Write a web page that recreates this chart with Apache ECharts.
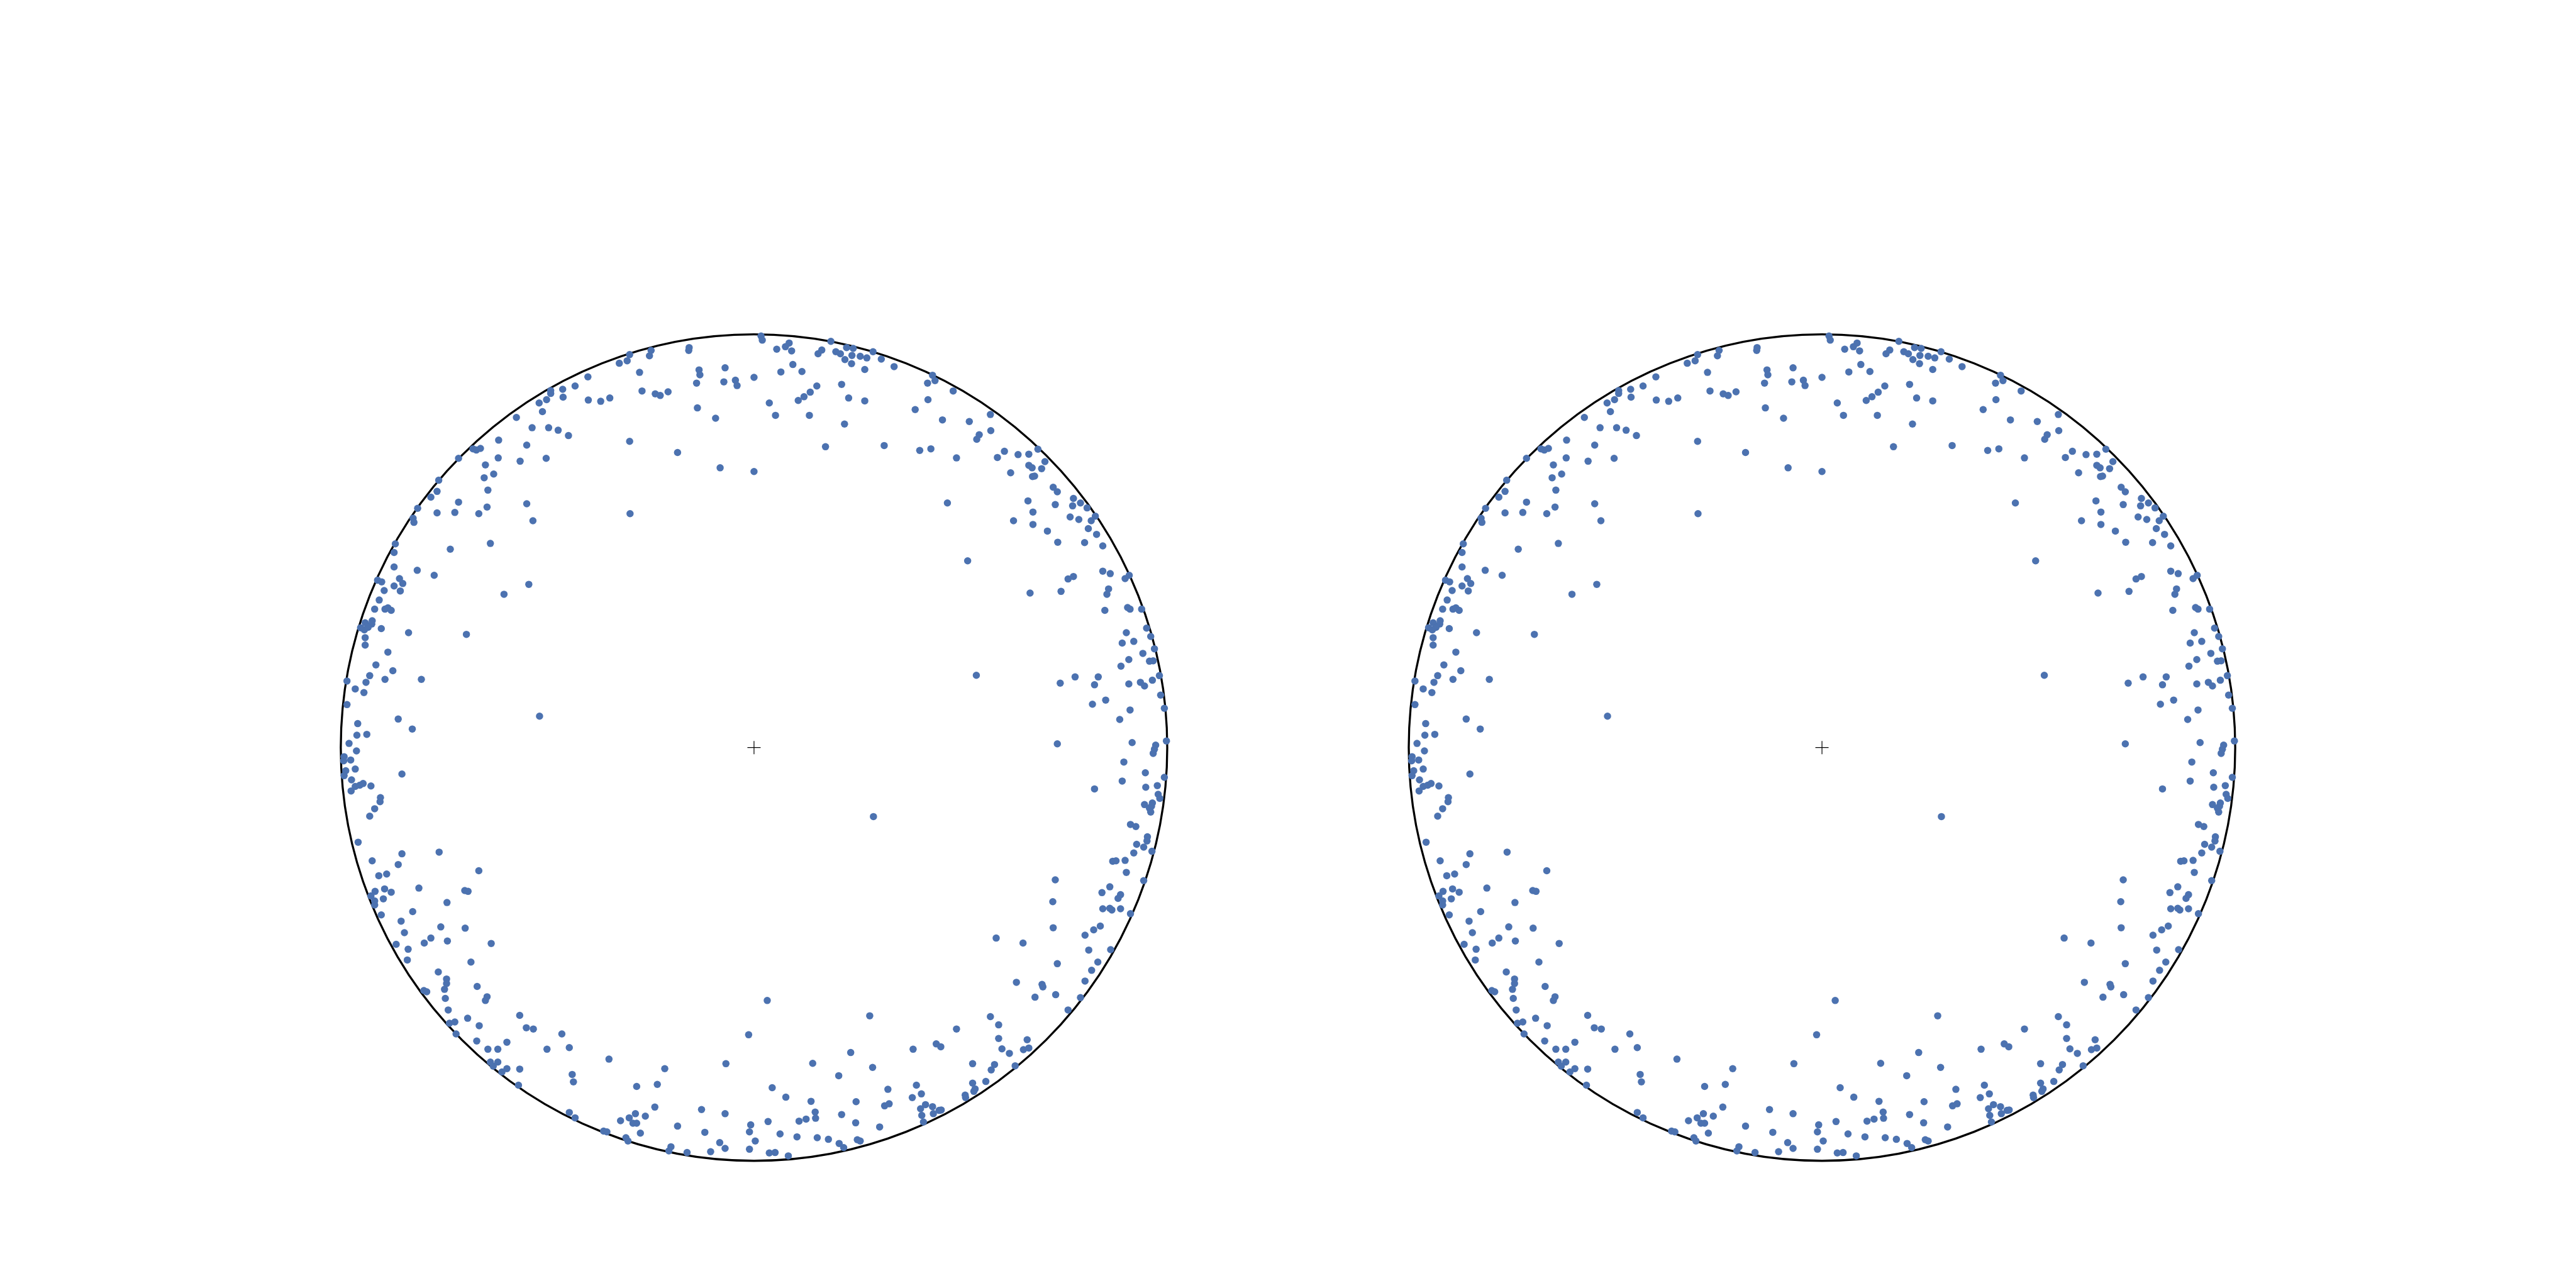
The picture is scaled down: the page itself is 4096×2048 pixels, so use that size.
<!DOCTYPE html>
<html>
<head>
<meta charset="utf-8">
<script src="https://cdn.jsdelivr.net/npm/echarts@6/dist/echarts.min.js"></script>
<style>
html,body{margin:0;padding:0;background:#fff;}
#chart{width:4096px;height:2048px;}
</style>
</head>
<body>
<div id="chart"></div>
<script>
// Projected pole positions (unit-circle coordinates, x east, y north), grouped by region of the net
const polesNW = [[-0.402,0.897],[-0.463,0.867],[-0.433,0.875],[-0.492,0.864],[-0.492,0.857],[-0.502,0.842],[-0.462,0.848],[-0.520,0.834],[-0.401,0.841],[-0.371,0.838],[-0.349,0.846],[-0.512,0.813],[-0.575,0.799],[-0.537,0.774],[-0.497,0.774],[-0.474,0.768],[-0.449,0.755],[-0.618,0.744],[-0.550,0.732],[-0.680,0.723],[-0.672,0.720],[-0.662,0.724],[-0.715,0.700],[-0.619,0.701],[-0.566,0.693],[-0.503,0.700],[-0.650,0.684],[-0.630,0.662],[-0.653,0.653],[-0.763,0.647],[-0.767,0.620],[-0.782,0.606],[-0.644,0.623],[-0.715,0.594],[-0.550,0.590],[-0.814,0.579],[-0.646,0.582],[-0.767,0.568],[-0.724,0.569],[-0.666,0.566],[-0.825,0.555],[-0.823,0.545],[-0.535,0.549],[-0.868,0.493],[-0.638,0.494],[-0.735,0.480],[-0.871,0.472],[-0.871,0.437],[-0.815,0.429],[-0.774,0.417],[-0.911,0.405],[-0.901,0.401],[-0.858,0.409],[-0.850,0.397],[-0.871,0.391],[-0.545,0.395],[-0.895,0.380],[-0.856,0.379],[-0.605,0.371],[-0.907,0.357]];
const polesN = [[-0.326,0.930],[-0.307,0.936],[-0.301,0.951],[-0.277,0.908],[-0.253,0.948],[-0.249,0.961],[-0.271,0.863],[-0.239,0.856],[-0.227,0.852],[-0.208,0.861],[-0.157,0.968],[-0.158,0.961],[-0.133,0.914],[-0.131,0.902],[-0.139,0.882],[-0.137,0.822],[-0.093,0.797],[-0.070,0.919],[-0.073,0.885],[-0.045,0.889],[-0.041,0.876],[0.000,0.896],[0.017,0.996],[0.020,0.986],[0.055,0.964],[0.076,0.970],[0.085,0.979],[0.091,0.960],[0.065,0.909],[0.094,0.927],[0.116,0.910],[0.037,0.834],[0.052,0.804],[0.107,0.840],[0.121,0.849],[0.136,0.860],[0.152,0.875],[0.134,0.804],[0.155,0.953],[0.164,0.962],[0.186,0.983],[0.198,0.958],[0.209,0.953],[0.224,0.968],[0.240,0.966],[0.237,0.949],[0.220,0.939],[0.236,0.929],[0.257,0.947],[0.273,0.943],[0.288,0.958],[0.308,0.940],[0.268,0.915],[0.212,0.879],[0.229,0.846],[0.268,0.839],[0.219,0.783],[0.173,0.728],[0.315,0.731],[-0.301,0.741],[-0.185,0.714],[-0.082,0.677],[0.000,0.668],[-0.300,0.566]];
const polesNE = [[0.339,0.922],[0.432,0.901],[0.438,0.888],[0.420,0.882],[0.482,0.863],[0.421,0.842],[0.390,0.818],[0.456,0.793],[0.521,0.789],[0.572,0.806],[0.573,0.767],[0.545,0.757],[0.539,0.746],[0.401,0.719],[0.428,0.723],[0.490,0.701],[0.589,0.702],[0.606,0.717],[0.639,0.709],[0.665,0.710],[0.687,0.722],[0.704,0.692],[0.665,0.683],[0.673,0.677],[0.696,0.675],[0.621,0.665],[0.674,0.656],[0.679,0.657],[0.724,0.630],[0.734,0.619],[0.663,0.597],[0.729,0.588],[0.773,0.603],[0.790,0.592],[0.771,0.585],[0.806,0.580],[0.826,0.560],[0.816,0.549],[0.765,0.558],[0.786,0.552],[0.809,0.530],[0.829,0.516],[0.468,0.592],[0.675,0.570],[0.628,0.549],[0.675,0.540],[0.710,0.524],[0.735,0.497],[0.800,0.496],[0.844,0.488],[0.517,0.452],[0.844,0.427],[0.862,0.421],[0.760,0.408],[0.773,0.414],[0.898,0.409],[0.908,0.417],[0.858,0.384],[0.854,0.371],[0.668,0.374],[0.743,0.378]];
const polesW = [[-0.918,0.335],[-0.893,0.335],[-0.886,0.338],[-0.878,0.332],[-0.941,0.302],[-0.924,0.307],[-0.925,0.299],[-0.952,0.290],[-0.943,0.285],[-0.934,0.291],[-0.902,0.288],[-0.836,0.278],[-0.696,0.274],[-0.941,0.266],[-0.941,0.248],[-0.886,0.231],[-0.915,0.200],[-0.874,0.186],[-0.930,0.174],[-0.939,0.158],[-0.893,0.165],[-0.805,0.165],[-0.985,0.161],[-0.965,0.142],[-0.944,0.133],[-0.985,0.104],[-0.519,0.076],[-0.861,0.069],[-0.827,0.045],[-0.959,0.058],[-0.961,0.030],[-0.937,0.032],[-0.980,0.010],[-0.962,-0.008],[-0.992,-0.022],[-0.993,-0.032],[-0.976,-0.030],[-0.988,-0.056],[-0.992,-0.068],[-0.965,-0.052],[-0.852,-0.064],[-0.974,-0.078],[-0.965,-0.094],[-0.954,-0.091],[-0.946,-0.087],[-0.975,-0.105],[-0.927,-0.093],[-0.904,-0.121],[-0.905,-0.131],[-0.918,-0.148],[-0.930,-0.166],[-0.958,-0.229],[-0.852,-0.257],[-0.762,-0.253],[-0.924,-0.274],[-0.861,-0.283],[-0.666,-0.298],[-0.908,-0.310],[-0.889,-0.306]];
const polesCentre = [[0.289,-0.167]];
const polesE = [[0.849,0.332],[0.904,0.339],[0.910,0.335],[0.938,0.335],[0.950,0.289],[0.901,0.278],[0.960,0.269],[0.891,0.253],[0.919,0.257],[0.969,0.239],[0.941,0.228],[0.907,0.213],[0.957,0.209],[0.966,0.210],[0.888,0.197],[0.981,0.174],[0.777,0.171],[0.833,0.171],[0.741,0.156],[0.824,0.152],[0.907,0.154],[0.935,0.158],[0.945,0.149],[0.964,0.163],[0.984,0.127],[0.851,0.115],[0.819,0.105],[0.910,0.091],[0.993,0.095],[0.885,0.068],[0.538,0.175],[0.734,0.009],[0.915,0.012],[0.998,0.016],[0.972,0.006],[0.969,-0.004],[0.966,-0.014],[0.895,-0.035],[0.947,-0.061],[0.993,-0.072],[0.891,-0.081],[0.824,-0.100],[0.948,-0.096],[0.976,-0.092],[0.978,-0.113],[0.982,-0.123],[0.945,-0.138],[0.964,-0.134],[0.962,-0.142],[0.957,-0.147],[0.960,-0.156],[0.911,-0.186],[0.924,-0.191],[0.952,-0.216],[0.951,-0.226],[0.926,-0.234],[0.943,-0.241],[0.963,-0.251],[0.919,-0.255],[0.868,-0.275],[0.876,-0.274],[0.898,-0.273],[0.901,-0.302],[0.729,-0.320],[0.943,-0.322]];
const polesSW = [[-0.917,-0.348],[-0.894,-0.342],[-0.878,-0.350],[-0.811,-0.340],[-0.700,-0.346],[-0.692,-0.348],[-0.927,-0.359],[-0.918,-0.371],[-0.918,-0.381],[-0.897,-0.366],[-0.743,-0.375],[-0.902,-0.405],[-0.826,-0.397],[-0.854,-0.420],[-0.758,-0.434],[-0.699,-0.437],[-0.846,-0.448],[-0.782,-0.461],[-0.798,-0.473],[-0.742,-0.468],[-0.866,-0.476],[-0.837,-0.488],[-0.636,-0.474],[-0.839,-0.514],[-0.685,-0.519],[-0.764,-0.543],[-0.744,-0.560],[-0.744,-0.571],[-0.749,-0.585],[-0.799,-0.588],[-0.792,-0.591],[-0.670,-0.578],[-0.646,-0.603],[-0.650,-0.612],[-0.747,-0.607],[-0.740,-0.635],[-0.567,-0.648],[-0.693,-0.655],[-0.737,-0.667],[-0.724,-0.664],[-0.665,-0.673],[-0.551,-0.678],[-0.534,-0.681],[-0.721,-0.693],[-0.465,-0.693],[-0.671,-0.710],[-0.598,-0.713],[-0.644,-0.730],[-0.620,-0.730],[-0.501,-0.730],[-0.447,-0.726],[-0.351,-0.754],[-0.638,-0.761],[-0.620,-0.761],[-0.631,-0.771],[-0.598,-0.777],[-0.610,-0.785],[-0.567,-0.778],[-0.440,-0.791],[-0.437,-0.809],[-0.570,-0.817],[-0.447,-0.883],[-0.433,-0.896],[-0.364,-0.928],[-0.356,-0.930]];
const polesS = [[0.032,-0.612],[0.280,-0.649],[-0.013,-0.695],[0.234,-0.738],[-0.068,-0.765],[-0.216,-0.777],[0.142,-0.764],[0.287,-0.774],[0.205,-0.794],[-0.284,-0.820],[-0.234,-0.815],[0.044,-0.823],[0.324,-0.827],[0.077,-0.846],[0.138,-0.856],[0.247,-0.857],[-0.240,-0.870],[-0.127,-0.876],[-0.070,-0.886],[0.148,-0.882],[0.149,-0.897],[0.212,-0.888],[0.316,-0.867],[0.327,-0.862],[-0.287,-0.886],[-0.302,-0.896],[-0.263,-0.892],[-0.323,-0.903],[-0.293,-0.909],[-0.284,-0.909],[-0.185,-0.916],[-0.275,-0.933],[-0.310,-0.944],[-0.305,-0.952],[-0.119,-0.931],[-0.008,-0.913],[-0.011,-0.930],[0.034,-0.905],[0.109,-0.904],[0.126,-0.899],[0.246,-0.908],[0.304,-0.918],[0.063,-0.935],[0.104,-0.942],[0.153,-0.944],[0.180,-0.948],[0.206,-0.958],[0.217,-0.968],[0.250,-0.949],[0.257,-0.952],[0.003,-0.952],[-0.083,-0.956],[-0.070,-0.970],[-0.201,-0.966],[-0.206,-0.976],[-0.162,-0.980],[-0.105,-0.978],[-0.011,-0.972],[0.037,-0.981],[0.051,-0.980],[0.083,-0.988]];
const polesSE = [[0.861,-0.337],[0.842,-0.351],[0.887,-0.356],[0.881,-0.365],[0.723,-0.373],[0.844,-0.390],[0.861,-0.389],[0.866,-0.393],[0.887,-0.390],[0.911,-0.402],[0.724,-0.436],[0.838,-0.432],[0.822,-0.441],[0.801,-0.454],[0.586,-0.461],[0.651,-0.473],[0.810,-0.490],[0.863,-0.489],[0.734,-0.523],[0.832,-0.519],[0.817,-0.539],[0.635,-0.568],[0.697,-0.573],[0.699,-0.579],[0.801,-0.565],[0.730,-0.598],[0.680,-0.604],[0.790,-0.605],[0.760,-0.635],[0.572,-0.651],[0.592,-0.671],[0.490,-0.681],[0.592,-0.704],[0.661,-0.707],[0.441,-0.717],[0.452,-0.724],[0.385,-0.730],[0.600,-0.729],[0.618,-0.740],[0.652,-0.731],[0.665,-0.727],[0.529,-0.765],[0.582,-0.767],[0.574,-0.780],[0.632,-0.770],[0.529,-0.812],[0.561,-0.808],[0.535,-0.826],[0.532,-0.832],[0.511,-0.841],[0.512,-0.847],[0.393,-0.817],[0.405,-0.838],[0.383,-0.847],[0.415,-0.864],[0.432,-0.869],[0.403,-0.874],[0.434,-0.886],[0.448,-0.878],[0.453,-0.877],[0.406,-0.890],[0.410,-0.906]];
const netCentre = [[0, 0]];

const poles = [].concat(polesNW, polesN, polesNE, polesW, polesCentre, polesE, polesSW, polesS, polesSE);

// layout (reference pixels scaled to the window)
const S = 4096 / 4800;
const R = 770 * S;
const CY = 1393 * S;
const CX = [1405 * S, 3395 * S];
const DOT = '#4c72b0';

const chart = echarts.init(document.getElementById('chart'), null, {renderer: 'canvas'});

const grids = [], xAxes = [], yAxes = [], polars = [], angleAxes = [], radiusAxes = [], series = [];
CX.forEach((cx, i) => {
  grids.push({left: cx - R, top: CY - R, width: 2 * R, height: 2 * R, containLabel: false});
  xAxes.push({gridIndex: i, type: 'value', min: -1, max: 1, show: false});
  yAxes.push({gridIndex: i, type: 'value', min: -1, max: 1, show: false});
  polars.push({center: [cx, CY], radius: R});
  angleAxes.push({
    polarIndex: i, type: 'value', min: 0, max: 360, startAngle: 90,
    axisLine: {show: true, lineStyle: {color: '#000', width: 3.3}},
    axisTick: {show: false}, axisLabel: {show: false}, splitLine: {show: false}
  });
  radiusAxes.push({polarIndex: i, type: 'value', min: 0, max: 1, show: false,
    axisLine: {show: false}, axisTick: {show: false}, axisLabel: {show: false}, splitLine: {show: false}});
  series.push({
    type: 'scatter', xAxisIndex: i, yAxisIndex: i, data: poles,
    symbol: 'circle', symbolSize: 11.5, clip: false,
    itemStyle: {color: DOT, opacity: 1}, z: 5, silent: true
  });
  series.push({
    type: 'scatter', xAxisIndex: i, yAxisIndex: i, data: netCentre,
    symbol: 'path://M10,0L10,20M0,10L20,10', symbolSize: 21, clip: false,
    itemStyle: {color: 'none', borderColor: '#000', borderWidth: 1.2, opacity: 1}, z: 6, silent: true
  });
});

chart.setOption({
  backgroundColor: '#ffffff',
  animation: false,
  grid: grids,
  xAxis: xAxes,
  yAxis: yAxes,
  polar: polars,
  angleAxis: angleAxes,
  radiusAxis: radiusAxes,
  series: series
});
</script>
</body>
</html>
